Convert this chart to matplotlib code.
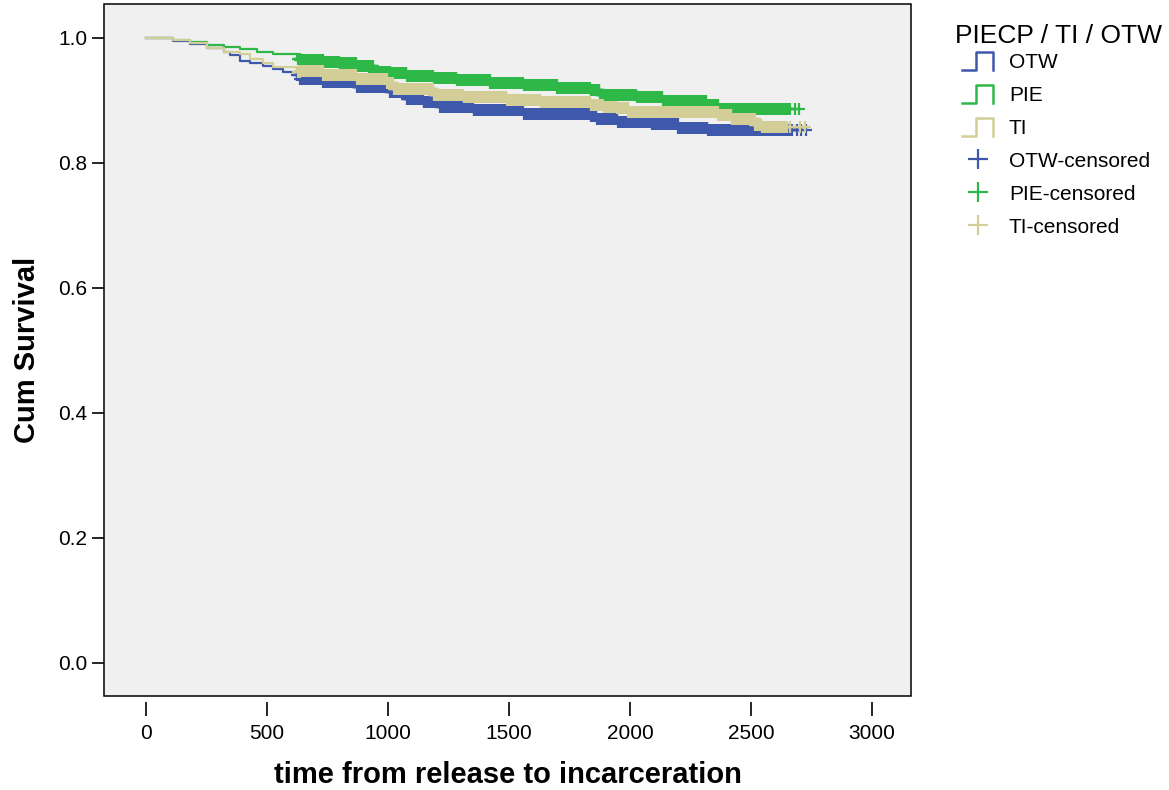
import matplotlib
matplotlib.use("Agg")
import matplotlib.pyplot as plt
import numpy as np
from matplotlib.legend_handler import HandlerBase
from matplotlib.lines import Line2D
from matplotlib.patches import Rectangle

plt.rcParams["font.family"] = ["Liberation Sans", "DejaVu Sans"]

# Kaplan-Meier estimates (time in days, cumulative survival)
otw_time = [0, 17, 113, 182, 251, 320, 347, 388, 430, 485, 526, 567, 623, 636, 733, 871,
            1008, 1077, 1146, 1215, 1353, 1559, 1835, 1862, 1951, 2090, 2198, 2322]
otw_surv = [1.000, 0.999, 0.995, 0.990, 0.983, 0.977, 0.972, 0.963, 0.959, 0.955, 0.950, 0.946,
            0.940, 0.934, 0.930, 0.922, 0.913, 0.902, 0.897, 0.889, 0.884, 0.878, 0.875, 0.870,
            0.866, 0.862, 0.856, 0.852]

pie_time = [0, 17, 113, 182, 251, 320, 388, 458, 526, 623, 636, 733, 802, 871, 939, 1008,
            1077, 1187, 1284, 1422, 1559, 1697, 1835, 1876, 2028, 2137, 2317, 2364]
pie_surv = [1.000, 1.000, 0.996, 0.993, 0.988, 0.985, 0.982, 0.978, 0.974, 0.966, 0.965, 0.962,
            0.960, 0.955, 0.946, 0.943, 0.939, 0.936, 0.932, 0.928, 0.924, 0.920, 0.917, 0.909,
            0.905, 0.899, 0.893, 0.886]

ti_time = [0, 17, 113, 182, 251, 320, 388, 430, 485, 526, 623, 636, 733, 871, 995, 1022,
           1187, 1311, 1490, 1628, 1835, 1890, 1945, 1993, 2365, 2420, 2517, 2544]
ti_surv = [1.000, 0.999, 0.996, 0.991, 0.984, 0.978, 0.974, 0.966, 0.959, 0.954, 0.946, 0.947,
           0.941, 0.934, 0.928, 0.918, 0.909, 0.905, 0.900, 0.897, 0.893, 0.890, 0.888, 0.882,
           0.877, 0.870, 0.861, 0.858]

# censoring: a continuous run of censored cases, then a few isolated ones
otw_censor_span = (625, 2668)
otw_censor_extra = [2690, 2705, 2728]
pie_censor_span = (628, 2655)
pie_censor_extra = [2662, 2680, 2700]
ti_censor_span = (628, 2647)
ti_censor_extra = [2660, 2702, 2722]

groups = ["OTW", "PIE", "TI"]
colors = {"OTW": "#3E58AC", "PIE": "#2EB848", "TI": "#D3CE97"}

series = {
    "OTW": (otw_time, otw_surv, otw_censor_span, otw_censor_extra),
    "PIE": (pie_time, pie_surv, pie_censor_span, pie_censor_extra),
    "TI": (ti_time, ti_surv, ti_censor_span, ti_censor_extra),
}

W, H = 1169, 790
fig = plt.figure(figsize=(W / 100, H / 100), dpi=100)
ax = fig.add_axes([104 / W, 1 - 696 / H, (911 - 104) / W, (696 - 4) / H])
ax.set_facecolor("#F0F0F0")

for g in groups:
    t, s, span, extra = series[g]
    t = np.asarray(t, dtype=float)
    s = np.asarray(s, dtype=float)
    # censored cases occur on (nearly) every day inside the span
    ct = np.concatenate([np.arange(span[0], span[1] + 1, 3), extra]).astype(float)
    cs = s[np.searchsorted(t, ct, side="right") - 1]
    t_end = ct.max()
    ax.step(np.append(t, t_end), np.append(s, s[-1]), where="post",
            color=colors[g], lw=1.6, zorder=2)
    ax.plot(ct, cs, ls="none", marker="+", ms=9, mew=1.6, color=colors[g], zorder=2)

ax.set_xlim(-174, 3161)
ax.set_ylim(-0.053, 1.054)
ax.set_xticks(np.arange(0, 3001, 500))
ax.set_yticks(np.arange(0, 1.01, 0.2))
ax.set_yticklabels([f"{v:.1f}" for v in np.arange(0, 1.01, 0.2)])

for sp in ax.spines.values():
    sp.set_visible(False)
ax.spines["bottom"].set_position(("outward", 4))
ax.add_patch(Rectangle((0, 0), 1, 1, transform=ax.transAxes, fill=False,
                       ec="black", lw=1.1, clip_on=False, zorder=5))

ax.tick_params(axis="x", direction="out", length=10, width=1.2, pad=6, labelsize=15)
ax.tick_params(axis="y", direction="out", length=9, width=1.2, pad=3, labelsize=15)

ax.set_xlabel("time from release to incarceration", fontsize=21, fontweight="bold", labelpad=13)
ax.set_ylabel("Cum Survival", fontsize=21, fontweight="bold", labelpad=12)


class StepHandler(HandlerBase):
    def create_artists(self, legend, orig_handle, xdescent, ydescent, width, height,
                       fontsize, trans):
        x0, y0 = -xdescent, -ydescent
        xm = x0 + 0.45 * width
        xs = [x0, xm, xm, x0 + width, x0 + width]
        ys = [y0, y0, y0 + height, y0 + height, y0]
        line = Line2D(xs, ys, color=orig_handle.get_color(), lw=1.8, transform=trans)
        return [line]


step_handles = [Line2D([], [], color=colors[g]) for g in groups]
cens_handles = [Line2D([], [], ls="none", marker="+", ms=14, mew=1.6, color=colors[g])
                for g in groups]
handler_map = {h: StepHandler() for h in step_handles}
labels = groups + [f"{g}-censored" for g in groups]

fig.text(955 / W, 1 - 36 / H, "PIECP / TI / OTW", fontsize=19, va="center", ha="left")
fig.legend(step_handles + cens_handles, labels,
           loc="upper left", bbox_to_anchor=(962 / W, 1 - 52 / H), frameon=False,
           fontsize=15, handler_map=handler_map,
           handlelength=1.5, handleheight=0.95, handletextpad=0.75, labelspacing=0.62,
           borderpad=0, borderaxespad=0)

fig.savefig("out.png", dpi=100)
plt.close(fig)
